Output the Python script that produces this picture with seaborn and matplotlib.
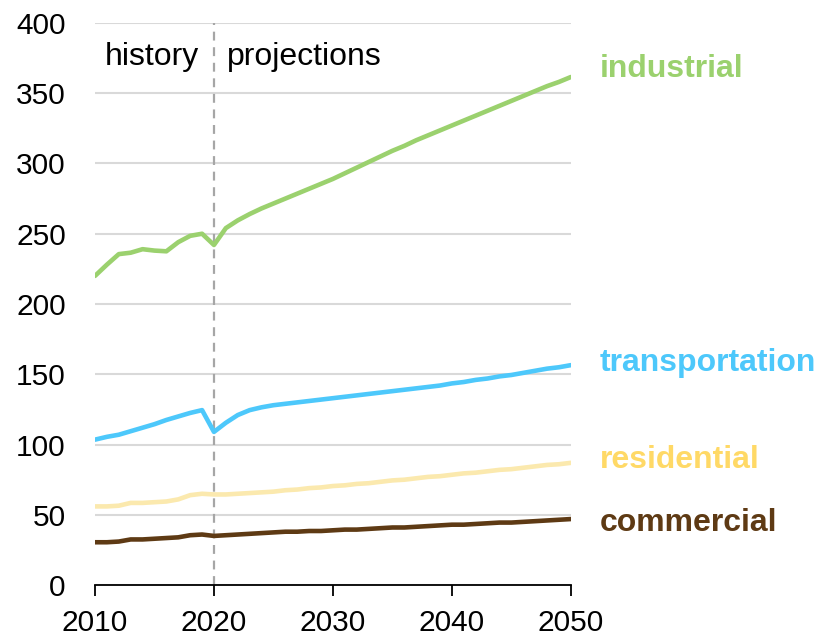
import pandas as pd
import matplotlib
matplotlib.use('Agg')
import matplotlib.pyplot as plt
import seaborn as sns

# Data
years = list(range(2010, 2051))
industrial = [220, 228, 235.5, 236.5, 239, 238, 237.5, 244, 248.5, 250,
              242, 254, 259.5, 264, 268, 271.5, 275, 278.5, 282, 285.5,
              289, 293, 297, 301, 305, 309, 312.5, 316.5, 320, 323.5,
              327, 330.5, 334, 337.5, 341, 344.5, 348, 351.5, 355, 358, 361.5]
transportation = [103.5, 105.5, 107, 109.5, 112, 114.5, 117.5, 120, 122.5, 124.5,
                  109, 115.5, 121, 124.5, 126.5, 128, 129, 130, 131, 132,
                  133, 134, 135, 136, 137, 138, 139, 140, 141, 142,
                  143.5, 144.5, 146, 147, 148.5, 149.5, 151, 152.5, 154, 155, 156.5]
residential = [56, 56, 56.5, 58.5, 58.5, 59, 59.5, 61, 64, 65,
               64.5, 64.5, 65, 65.5, 66, 66.5, 67.5, 68, 69, 69.5,
               70.5, 71, 72, 72.5, 73.5, 74.5, 75, 76, 77, 77.5,
               78.5, 79.5, 80, 81, 82, 82.5, 83.5, 84.5, 85.5, 86, 87]
commercial = [30.5, 30.5, 31, 32.5, 32.5, 33, 33.5, 34, 35.5, 36,
              35, 35.5, 36, 36.5, 37, 37.5, 38, 38, 38.5, 38.5,
              39, 39.5, 39.5, 40, 40.5, 41, 41, 41.5, 42, 42.5,
              43, 43, 43.5, 44, 44.5, 44.5, 45, 45.5, 46, 46.5, 47]

sectors = ['industrial', 'transportation', 'residential', 'commercial']
line_colors = {'industrial': '#9BD16E', 'transportation': '#4DC8FB',
               'residential': '#FBE9AE', 'commercial': '#5E3A14'}
label_colors = {'industrial': '#9BD16E', 'transportation': '#4DC8FB',
                'residential': '#FFD966', 'commercial': '#5E3A14'}
label_y = {'industrial': 367, 'transportation': 158,
           'residential': 89, 'commercial': 44}

df = pd.DataFrame({'year': years, 'industrial': industrial,
                   'transportation': transportation,
                   'residential': residential, 'commercial': commercial})
long = df.melt(id_vars='year', var_name='sector', value_name='value')

sns.set_theme(style='white')
plt.rcParams['font.family'] = ['Liberation Sans', 'DejaVu Sans']

fig = plt.figure(figsize=(8.19, 6.36), dpi=100)
ax = fig.add_axes([0.116, 0.080, 0.581, 0.884])

sns.lineplot(data=long, x='year', y='value', hue='sector', hue_order=sectors,
             palette=line_colors, linewidth=3.3, legend=False, ax=ax,
             zorder=3)

ax.set_xlim(2010, 2050)
ax.set_ylim(0, 400)
ax.set_xticks(range(2010, 2051, 10))
ax.set_yticks(range(0, 401, 50))
ax.yaxis.grid(True, color='#D9D9D9', linewidth=1.5)
ax.set_axisbelow(True)
ax.set_xlabel('')
ax.set_ylabel('')

for s in ['top', 'right', 'left']:
    ax.spines[s].set_visible(False)
ax.spines['bottom'].set_color('black')
ax.spines['bottom'].set_linewidth(1.3)
ax.tick_params(axis='x', direction='out', length=8, width=1.3,
               color='black', labelsize=21.5, labelcolor='black',
               pad=9, bottom=True)
ax.tick_params(axis='y', length=0, labelsize=21.5, labelcolor='black',
               pad=21)

ax.axvline(2020, color='#A6A6A6', linestyle=(0, (4, 3)), linewidth=1.6,
           zorder=2)
ax.text(2010.8, 375.5, 'history', fontsize=23, va='center', ha='left',
        color='black')
ax.text(2021.1, 375.5, 'projections', fontsize=23, va='center', ha='left',
        color='black')

for s in sectors:
    ax.text(2052.4, label_y[s], s, color=label_colors[s], fontsize=23,
            fontweight='bold', va='center', ha='left', clip_on=False)

fig.savefig('out.png', dpi=100)
